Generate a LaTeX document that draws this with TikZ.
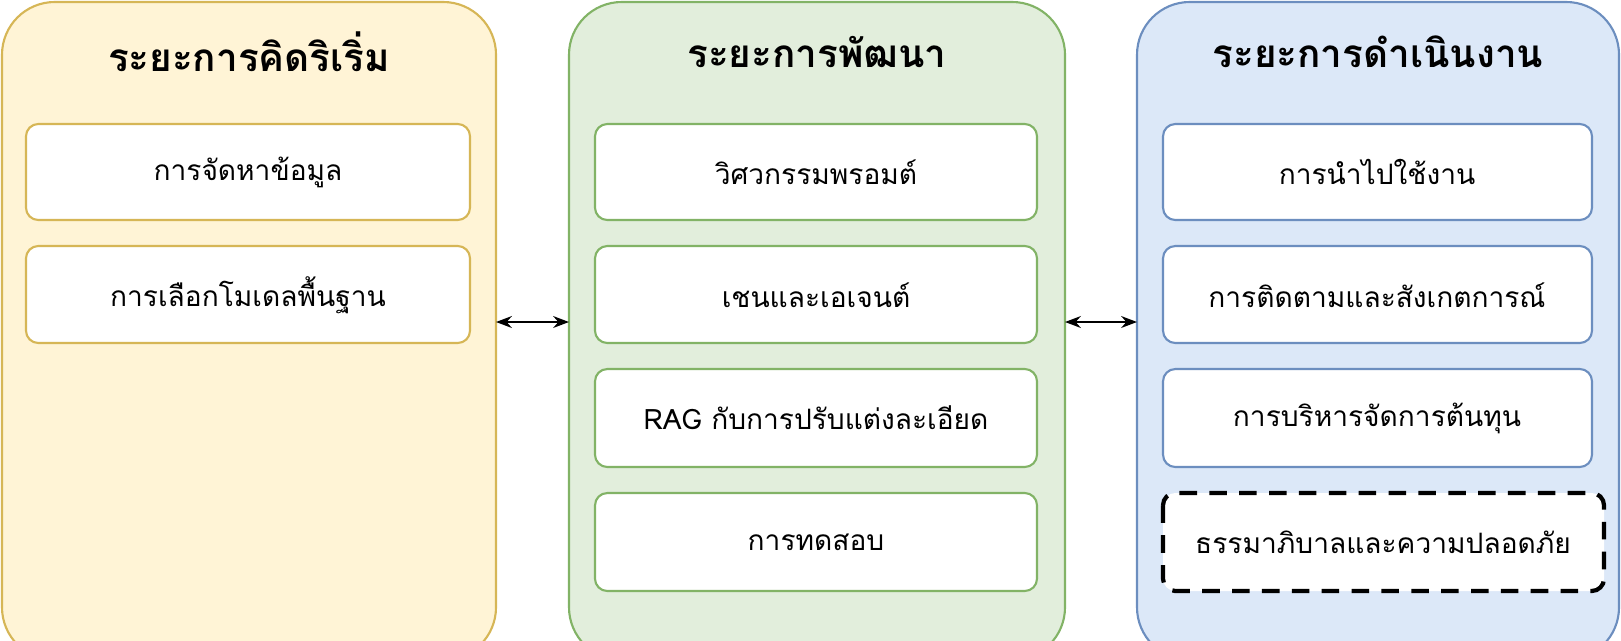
\documentclass[tikz,border=0pt]{standalone}
\usepackage{fontspec}
\newfontfamily\thaifont[Script=Thai]{Loma}
\usetikzlibrary{arrows.meta}
\definecolor{idfill}{HTML}{FFF4D6}\definecolor{iddraw}{HTML}{D6B656}
\definecolor{dvfill}{HTML}{E2EEDC}\definecolor{dvdraw}{HTML}{82B366}
\definecolor{opfill}{HTML}{DCE8F8}\definecolor{opdraw}{HTML}{6C8EBF}
\begin{document}
\begin{tikzpicture}[x=0.02cm,y=-0.02cm,
    phase/.style={draw,line width=1.2pt,rounded corners=30pt},
    stagebox/.style={draw,line width=1.2pt,fill=white,rounded corners=7pt},
    phasetitle/.style={font=\thaifont\bfseries\fontsize{22}{26}\selectfont},
    boxtext/.style={font=\thaifont\fontsize{16}{20}\selectfont},
    link/.style={{Stealth[length=9pt]}-{Stealth[length=9pt]},line width=1.2pt}]
  \useasboundingbox (0,0) rectangle (1621,640);
  % phases
  \draw[phase,fill=idfill,draw=iddraw] (2,2) rectangle (496,660);
  \draw[phase,fill=dvfill,draw=dvdraw] (569,2) rectangle (1065,660);
  \draw[phase,fill=opfill,draw=opdraw] (1137,2) rectangle (1619,660);
  \node[phasetitle] (tid) at (249,52) {ระยะการคิดริเริ่ม};
  \node[phasetitle] (tdv) at (817,52) {ระยะการพัฒนา};
  \node[phasetitle] (top) at (1378,52) {ระยะการดำเนินงาน};
  % ideation boxes
  \draw[stagebox,draw=iddraw] (26,124) rectangle (470,220);
  \node[boxtext] (i1) at (248,172) {การจัดหาข้อมูล};
  \draw[stagebox,draw=iddraw] (26,246) rectangle (470,343);
  \node[boxtext] (i2) at (248,295) {การเลือกโมเดลพื้นฐาน};
  % development boxes
  \draw[stagebox,draw=dvdraw] (595,124) rectangle (1037,220);
  \node[boxtext] (d1) at (816,172) {วิศวกรรมพรอมต์};
  \draw[stagebox,draw=dvdraw] (595,246) rectangle (1037,343);
  \node[boxtext] (d2) at (816,295) {เชนและเอเจนต์};
  \draw[stagebox,draw=dvdraw] (595,369) rectangle (1037,467);
  \node[boxtext] (d3) at (816,418) {RAG กับการปรับแต่งละเอียด};
  \draw[stagebox,draw=dvdraw] (595,493) rectangle (1037,591);
  \node[boxtext] (d4) at (816,542) {การทดสอบ};
  % operations boxes
  \draw[stagebox,draw=opdraw] (1163,124) rectangle (1592,220);
  \node[boxtext] (o1) at (1377,172) {การนำไปใช้งาน};
  \draw[stagebox,draw=opdraw] (1163,246) rectangle (1592,343);
  \node[boxtext] (o2) at (1377,295) {การติดตามและสังเกตการณ์};
  \draw[stagebox,draw=opdraw] (1163,369) rectangle (1592,467);
  \node[boxtext] (o3) at (1377,418) {การบริหารจัดการต้นทุน};
  \draw[stagebox,draw=black,line width=2.4pt,dash pattern=on 10pt off 7pt] (1163,493) rectangle (1604,591);
  \node[boxtext] (o4) at (1383,542) {ธรรมาภิบาลและความปลอดภัย};
  % links between phases
  \coordinate (a1) at (496,322);
  \coordinate (a2) at (569,322);
  \coordinate (b1) at (1065,322);
  \coordinate (b2) at (1137,322);
  \draw[link] (a1) -- (a2);
  \draw[link] (b1) -- (b2);
\end{tikzpicture}
\end{document}
